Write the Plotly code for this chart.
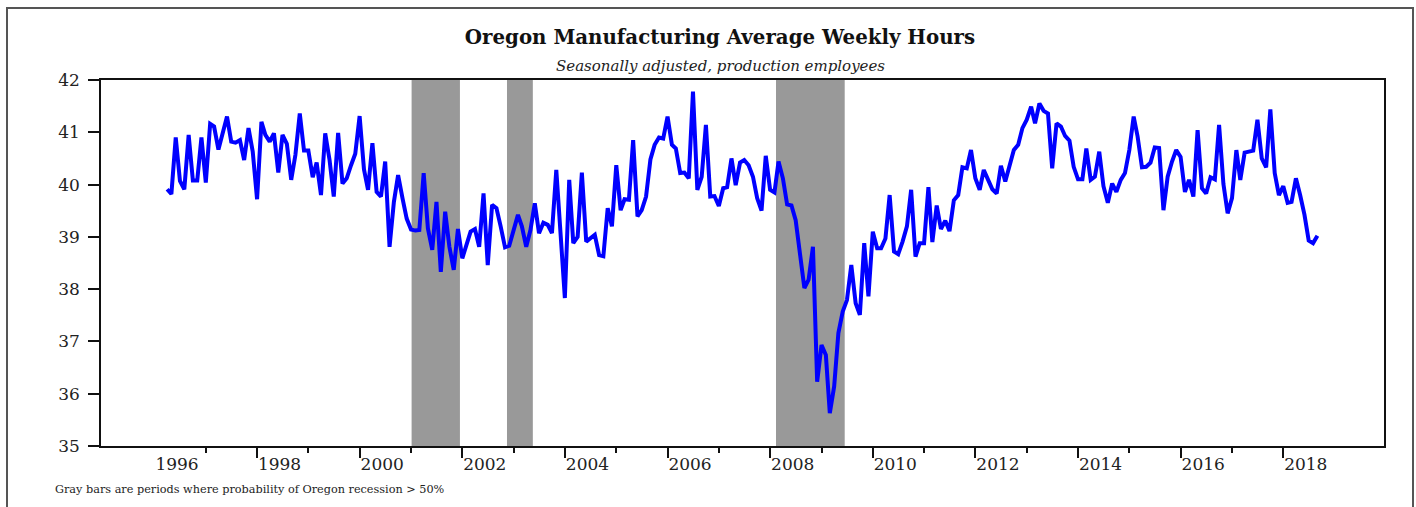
import pandas as pd
import plotly.graph_objects as go

# ---- data -------------------------------------------------------------
start_month = "1996-04-01"
hours = [
    39.91, 39.82, 40.90, 40.07, 39.91, 40.95, 40.08, 40.08, 40.90, 40.04,
    41.16, 41.11, 40.67, 40.95, 41.30, 40.82, 40.80, 40.85, 40.47, 41.08,
    40.63, 39.72, 41.20, 40.95, 40.82, 40.98, 40.23, 40.95, 40.78, 40.09,
    40.57, 41.36, 40.65, 40.65, 40.14, 40.42, 39.80, 40.98, 40.47, 39.77,
    40.99, 40.02, 40.12, 40.37, 40.59, 41.31, 40.29, 39.90, 40.79, 39.86,
    39.77, 40.44, 38.81, 39.67, 40.18, 39.74, 39.35, 39.14, 39.12, 39.13,
    40.22, 39.16, 38.75, 39.67, 38.33, 39.48, 38.81, 38.37, 39.15, 38.59,
    38.88, 39.10, 39.15, 38.81, 39.83, 38.46, 39.61, 39.55, 39.20, 38.80,
    38.83, 39.10, 39.42, 39.20, 38.81, 39.13, 39.64, 39.07, 39.27, 39.23,
    39.07, 40.28, 39.13, 37.83, 40.09, 38.88, 39.00, 40.23, 38.91, 38.97,
    39.04, 38.65, 38.63, 39.55, 39.20, 40.37, 39.51, 39.72, 39.71, 40.85,
    39.39, 39.51, 39.77, 40.48, 40.76, 40.90, 40.88, 41.30, 40.76, 40.69,
    40.22, 40.23, 40.12, 41.78, 39.90, 40.15, 41.14, 39.77, 39.78, 39.59,
    39.93, 39.95, 40.50, 39.99, 40.42, 40.47, 40.37, 40.15, 39.74, 39.50,
    40.55, 39.90, 39.85, 40.44, 40.12, 39.62, 39.60, 39.32, 38.60, 38.02,
    38.18, 38.81, 36.23, 36.93, 36.74, 35.63, 36.14, 37.16, 37.57, 37.79,
    38.46, 37.73, 37.51, 38.88, 37.86, 39.10, 38.78, 38.78, 38.97, 39.80,
    38.72, 38.67, 38.91, 39.20, 39.90, 38.62, 38.88, 38.88, 39.95, 38.90,
    39.60, 39.15, 39.31, 39.11, 39.70, 39.80, 40.33, 40.31, 40.66, 40.12,
    39.90, 40.28, 40.09, 39.91, 39.83, 40.36, 40.06, 40.37, 40.66, 40.76,
    41.08, 41.24, 41.49, 41.17, 41.55, 41.41, 41.36, 40.31, 41.17, 41.11,
    40.93, 40.84, 40.34, 40.10, 40.10, 40.69, 40.09, 40.15, 40.63, 39.97,
    39.65, 40.02, 39.86, 40.09, 40.22, 40.66, 41.30, 40.92, 40.33, 40.34,
    40.42, 40.71, 40.70, 39.51, 40.15, 40.44, 40.66, 40.53, 39.86, 40.09,
    39.77, 41.04, 39.93, 39.83, 40.14, 40.10, 41.14, 40.01, 39.45, 39.74,
    40.66, 40.09, 40.61, 40.63, 40.65, 41.24, 40.50, 40.33, 41.44, 40.22,
    39.80, 39.97, 39.65, 39.67, 40.12, 39.80, 39.42, 38.93, 38.88, 39.02,
]
recession_starts = ["2001-01-05", "2002-11-15", "2008-02-12"]
recession_ends = ["2001-12-15", "2003-05-18", "2009-06-15"]
label_years = list(range(1996, 2019, 2))
major_tick_years = list(range(1998, 2019, 2))
minor_tick_years = list(range(1997, 2018, 2))
y_ticks = [35, 36, 37, 38, 39, 40, 41, 42]

dates = pd.date_range(start_month, periods=len(hours), freq="MS")

# ---- figure -----------------------------------------------------------
SERIF = "DejaVu Serif"
x_range = ["1994-12-17", "2019-12-19"]

fig = go.Figure()
fig.add_trace(go.Scatter(x=dates, y=hours, mode="lines",
                         line=dict(color="#0000FF", width=4),
                         showlegend=False, hoverinfo="x+y"))
# invisible companion trace so the label axis is drawn
fig.add_trace(go.Scatter(x=dates, y=hours, xaxis="x2", mode="lines",
                         line=dict(width=0), opacity=0,
                         showlegend=False, hoverinfo="skip"))

for s, e in zip(recession_starts, recession_ends):
    fig.add_shape(type="rect", xref="x", yref="paper", x0=s, x1=e, y0=0, y1=1,
                  fillcolor="#999999", line=dict(width=0), layer="below")

# outer frame
L, R, T, B = 101, 32, 80, 61
W, H = 1416, 507
pw, ph = W - L - R, H - T - B
fig.add_shape(type="rect", xref="paper", yref="paper",
              x0=(7 - L) / pw, x1=(1413 - L) / pw,
              y0=(H - 530 - B) / ph, y1=(H - 8 - B) / ph,
              line=dict(color="#555555", width=2), fillcolor="rgba(0,0,0,0)")

fig.update_layout(
    width=W, height=H,
    margin=dict(l=L, r=R, t=T, b=B),
    paper_bgcolor="white", plot_bgcolor="white",
    font=dict(family=SERIF, color="#222222"),
    title=dict(text="<b>Oregon Manufacturing Average Weekly Hours</b>",
               x=(720 - L) / pw, xref="paper", xanchor="center",
               y=1 - 37 / H, yanchor="middle",
               font=dict(family=SERIF, size=19.8, color="#111111")),
    xaxis=dict(
        type="date", range=x_range,
        showgrid=False, zeroline=False,
        showline=True, linecolor="#111111", linewidth=1.5, mirror=True,
        tickmode="array", tickvals=[f"{y}-01-01" for y in major_tick_years],
        ticks="outside", ticklen=10, tickwidth=1.5, tickcolor="#111111",
        showticklabels=False,
        minor=dict(tickmode="array",
                   tickvals=[f"{y}-01-01" for y in minor_tick_years],
                   ticks="outside", ticklen=5, tickwidth=1.5,
                   tickcolor="#111111", showgrid=False),
    ),
    xaxis2=dict(
        type="date", range=x_range, overlaying="x", anchor="y", side="bottom",
        showgrid=False, zeroline=False, showline=False,
        tickmode="array", tickvals=[f"{y}-06-10" for y in label_years],
        ticktext=[str(y) for y in label_years], ticks="",
        ticklabelstandoff=6,
        tickfont=dict(family=SERIF, size=17, color="#222222"),
    ),
    yaxis=dict(
        range=[35, 42], tickvals=y_ticks,
        showgrid=False, zeroline=False,
        showline=True, linecolor="#111111", linewidth=1.5, mirror=True,
        ticks="outside", ticklen=11, tickwidth=1.5, tickcolor="#111111",
        ticklabelstandoff=5,
        tickfont=dict(family=SERIF, size=17, color="#222222"),
    ),
    annotations=[
        dict(text="<i>Seasonally adjusted, production employees</i>",
             xref="paper", yref="paper", x=(720 - L) / pw, y=(H - 66 - B) / ph,
             xanchor="center", yanchor="middle", showarrow=False,
             font=dict(family=SERIF, size=15, color="#222222")),
        dict(text="Gray bars are periods where probability of Oregon recession > 50%",
             xref="paper", yref="paper", x=(53 - L) / pw, y=(H - 489 - B) / ph,
             xanchor="left", yanchor="middle", showarrow=False,
             font=dict(family=SERIF, size=11.25, color="#222222")),
    ],
)

fig.write_html("out.html", config={"displayModeBar": False},
               post_script="document.body.style.margin='0px';")
